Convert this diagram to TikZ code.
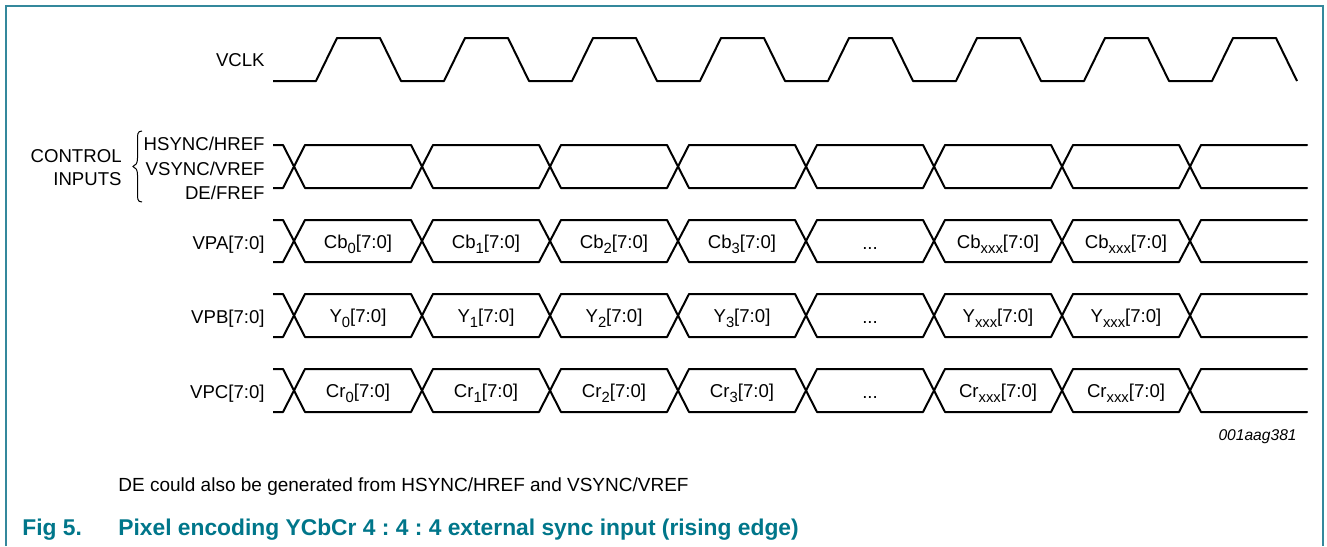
\documentclass[tikz,border=0pt]{standalone}
\usepackage{fontspec}
\setmainfont{Liberation Sans}
\frenchspacing
\definecolor{frame}{RGB}{52,136,156}
\definecolor{capt}{RGB}{0,118,138}
\tikzset{
  wave/.style={line width=1pt, line join=round, line cap=butt},
  lbl/.style={inner sep=0pt, font=\fontsize{9.3}{11}\selectfont},
  celllbl/.style={inner sep=0pt, anchor=base, font=\fontsize{9.3}{11}\selectfont},
}
\newcommand{\sbs}[1]{\raisebox{-0.28em}{\fontsize{7.4}{9}\selectfont #1}}
\newcommand{\busrow}[2]{%
  % #1 high y, #2 low y
  \draw[wave] (273,#1) -- (283,#1)
    foreach \k in {0,...,7} { -- ({294+128*\k},{(#1+#2)/2}) -- ({305+128*\k},#1) -- ({411+128*\k},#1) }
    -- (1298,#1);
  \draw[wave] (273,#2) -- (283,#2)
    foreach \k in {0,...,7} { -- ({294+128*\k},{(#1+#2)/2}) -- ({305+128*\k},#2) -- ({411+128*\k},#2) }
    -- (1298,#2);
}
\begin{document}
\begin{tikzpicture}[x=0.5pt,y=-0.5pt]
\useasboundingbox (0,0) rectangle (1327,546);
% frame
\draw[frame, line width=1pt] (5.5,546) -- (5.5,5.5) -- (1323,5.5) -- (1323,546);
% VCLK
\node[lbl, anchor=base east] (vclk) at (265,66.5) {VCLK};
\draw[wave] (273,81) foreach \k in {0,...,7} { -- ({316+128*\k},81) -- ({337+128*\k},38) -- ({380+128*\k},38) -- ({401+128*\k},81) };
% control inputs
\node[lbl, anchor=base east] (hs) at (265,150.5) {HSYNC/HREF};
\node[lbl, anchor=base east] (vs) at (265,175) {VSYNC/VREF};
\node[lbl, anchor=base east] (de) at (265,199.5) {DE/FREF};
\node[lbl, anchor=base east] (ctl) at (122,162) {CONTROL};
\node[lbl, anchor=base east] (inp) at (122,185) {INPUTS};
\draw[line width=0.5pt] (142,131) .. controls (137,131) and (137.5,135) .. (137.5,141) -- (137.5,158) .. controls (137.5,163) and (136,165.5) .. (133,166.5)
  .. controls (136,167.5) and (137.5,170) .. (137.5,175) -- (137.5,192) .. controls (137.5,198) and (137,202) .. (142,202);
\busrow{145}{188}
% VPA
\node[lbl, anchor=base east] (vpa) at (265,249.5) {VPA[7:0]};
\busrow{220}{262}
\node[celllbl] (a0) at (358,248) {Cb\sbs{0}[7:0]};
\node[celllbl] (a1) at (486,248) {Cb\sbs{1}[7:0]};
\node[celllbl] (a2) at (614,248) {Cb\sbs{2}[7:0]};
\node[celllbl] (a3) at (742,248) {Cb\sbs{3}[7:0]};
\node[celllbl] (a4) at (870,249) {...};
\node[celllbl] (a5) at (998,248) {Cb\sbs{xxx}[7:0]};
\node[celllbl] (a6) at (1126,248) {Cb\sbs{xxx}[7:0]};
% VPB
\node[lbl, anchor=base east] (vpb) at (265,323.5) {VPB[7:0]};
\busrow{294}{337}
\node[celllbl] (b0) at (358,322.5) {Y\sbs{0}[7:0]};
\node[celllbl] (b1) at (486,322.5) {Y\sbs{1}[7:0]};
\node[celllbl] (b2) at (614,322.5) {Y\sbs{2}[7:0]};
\node[celllbl] (b3) at (742,322.5) {Y\sbs{3}[7:0]};
\node[celllbl] (b4) at (870,323.5) {...};
\node[celllbl] (b5) at (998,322.5) {Y\sbs{xxx}[7:0]};
\node[celllbl] (b6) at (1126,322.5) {Y\sbs{xxx}[7:0]};
% VPC
\node[lbl, anchor=base east] (vpc) at (265,398.5) {VPC[7:0]};
\busrow{369}{412}
\node[celllbl] (c0) at (358,397.5) {Cr\sbs{0}[7:0]};
\node[celllbl] (c1) at (486,397.5) {Cr\sbs{1}[7:0]};
\node[celllbl] (c2) at (614,397.5) {Cr\sbs{2}[7:0]};
\node[celllbl] (c3) at (742,397.5) {Cr\sbs{3}[7:0]};
\node[celllbl] (c4) at (870,398.5) {...};
\node[celllbl] (c5) at (998,397.5) {Cr\sbs{xxx}[7:0]};
\node[celllbl] (c6) at (1126,397.5) {Cr\sbs{xxx}[7:0]};
% id
\node[inner sep=0pt, anchor=base east, font=\fontsize{7.8}{9}\selectfont\itshape] (id) at (1297,440.5) {001aag381};
% notes
\node[inner sep=0pt, anchor=base west, font=\fontsize{9.5}{11}\selectfont] (note) at (118,491.5) {DE could also be generated from HSYNC/HREF and VSYNC/VREF};
\node[inner sep=0pt, anchor=base west, text=capt, font=\fontsize{11.4}{13}\selectfont\bfseries] (fig) at (22,535) {Fig 5.};
\node[inner sep=0pt, anchor=base west, text=capt, font=\fontsize{11.4}{13}\selectfont\bfseries] (title) at (118,535) {Pixel encoding YCbCr 4 : 4 : 4 external sync input (rising edge)};
\end{tikzpicture}
\end{document}
